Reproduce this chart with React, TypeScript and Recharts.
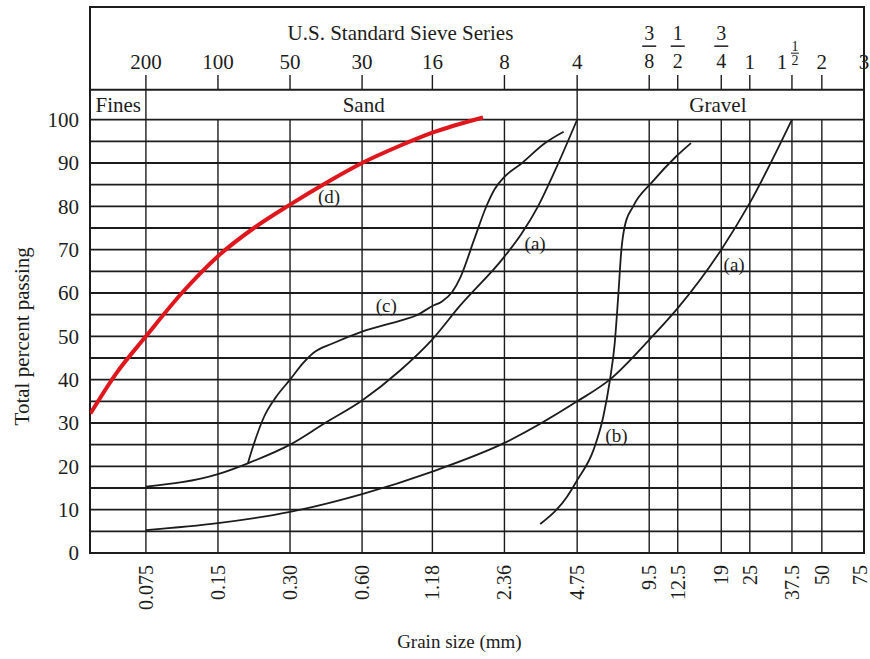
import { LineChart, Line, XAxis, YAxis, ReferenceLine, ReferenceArea, ReferenceDot } from 'recharts'

// grain sizes (mm) of the standard sieves, with their sieve designations
const sieveSizes = [0.075, 0.15, 0.3, 0.6, 1.18, 2.36, 4.75, 9.5, 12.5, 19, 25, 37.5, 50, 75]
const sizeLabels = ['0.075', '0.15', '0.30', '0.60', '1.18', '2.36', '4.75', '9.5', '12.5', '19', '25', '37.5', '50', '75']
const sieveNames = ['200', '100', '50', '30', '16', '8', '4', '3/8', '1/2', '3/4', '1', '1 1/2', '2', '3']
const percentTicks = [0, 10, 20, 30, 40, 50, 60, 70, 80, 90, 100]
const gridLevels = [0, 5, 10, 15, 20, 25, 30, 35, 40, 45, 50, 55, 60, 65, 70, 75, 80, 85, 90, 95, 100]
const zoneBounds = [0.075, 4.75]

// (a) well graded gravel
const gravelASize = [0.075, 0.15, 0.3, 0.6, 1.18, 2.36, 4.75, 6.5, 9.5, 12.5, 19, 25, 37.5]
const gravelAPct = [5.3, 6.9, 9.5, 13.6, 18.8, 25.4, 35, 40, 49.2, 56.5, 70, 80.8, 100]
// (a) well graded sand
const sandASize = [0.075, 0.15, 0.2, 0.3, 0.42, 0.6, 0.86, 1.18, 1.53, 2.36, 2.79, 3.26, 3.85, 4.75]
const sandAPct = [15.3, 18.2, 20.7, 25, 30, 35.2, 42, 49.3, 56.9, 68.4, 73.8, 80, 88.4, 100]
// (b) uniform gravel
const uniformSize = [3.33, 4.31, 4.75, 5.56, 6.11, 6.51, 6.82, 7.05, 7.27, 7.5, 8.12, 9.81, 12.3, 14.2]
const uniformPct = [6.7, 13, 16.8, 23.8, 31.5, 39.9, 48.5, 59.2, 70, 75.3, 79.9, 85.7, 91.5, 94.6]
// (c) gap graded
const gapSize = [0.2, 0.21, 0.234, 0.263, 0.3, 0.34, 0.374, 0.454, 0.6, 0.89, 1.01, 1.18, 1.29, 1.43, 1.55, 1.76, 1.98, 2.15, 2.36, 2.78, 3.49, 4.17]
const gapPct = [20.7, 24.5, 31.5, 36.1, 40, 43.8, 46.1, 48.4, 51.1, 53.8, 54.8, 57, 58, 60.3, 63.8, 72.2, 79.9, 84, 86.8, 89.9, 94.6, 97.2]
// (d) fine soil
const fineSize = [0.044, 0.0563, 0.075, 0.106, 0.15, 0.212, 0.3, 0.424, 0.6, 0.849, 1.18, 1.92]
const finePct = [32.2, 41.4, 50, 60, 68.5, 75, 80.4, 85.4, 90, 93.8, 97, 100.5]

const FONT = '"Liberation Serif", "Times New Roman", serif'
const INK = '#1c1c1c'
const RED = '#e0161d'

// where the text annotations sit, in (size mm, percent)
const curveNotes = [
  { d: 0.437, p: 82.2, t: '(d)' },
  { d: 0.757, p: 57.2, t: '(c)' },
  { d: 3.17, p: 71.5, t: '(a)' },
  { d: 21.5, p: 66.5, t: '(a)' },
  { d: 6.93, p: 27.2, t: '(b)' },
]
const zoneNotes = [
  { d: 0.0575, t: 'Fines' },
  { d: 0.609, t: 'Sand' },
  { d: 18.4, t: 'Gravel' },
]

const X_MIN = 0.0438
const Y_TOP = 126
const HEADER = 106.9
const TICK_TOP = 110.3

const pts = (sizes: number[], pcts: number[]) => sizes.map((d, i) => ({ d, p: pcts[i] }))

function BottomTick({ x, y, payload }: any) {
  const i = sieveSizes.indexOf(payload.value)
  const label = sizeLabels[i] ?? String(payload.value)
  // last label sits on the right border, pull it in a little so it stays on the page
  const tx = i === sieveSizes.length - 1 ? x - 4 : x
  return (
    <text x={tx} y={y} transform={`rotate(-90 ${tx} ${y})`} textAnchor="end" dy="0.35em"
      fontSize={20} fontFamily={FONT} fill={INK}>{label}</text>
  )
}

function LeftTick({ x, y, payload }: any) {
  return (
    <text x={x} y={y} textAnchor="end" dy="0.35em" fontSize={21} fontFamily={FONT} fill={INK}>
      {payload.value}
    </text>
  )
}

function SieveName({ cx, cy, name }: { cx: number; cy: number; name: string }) {
  const txt = { fontFamily: FONT, fill: INK, textAnchor: 'middle' as const }
  if (name.includes(' ')) {
    const [whole, frac] = name.split(' ')
    const [n, den] = frac.split('/')
    return (
      <g>
        <text x={cx - 10} y={cy} dy="0.35em" fontSize={21} {...txt}>{whole}</text>
        <text x={cx + 3} y={cy - 15} dy="0.35em" fontSize={14} {...txt}>{n}</text>
        <line x1={cx - 1} x2={cx + 7} y1={cy - 8} y2={cy - 8} stroke={INK} strokeWidth={1} />
        <text x={cx + 3} y={cy - 1} dy="0.35em" fontSize={14} {...txt}>{den}</text>
      </g>
    )
  }
  if (name.includes('/')) {
    const [n, den] = name.split('/')
    return (
      <g>
        <text x={cx} y={cy - 28} dy="0.35em" fontSize={20} {...txt}>{n}</text>
        <line x1={cx - 7} x2={cx + 7} y1={cy - 15} y2={cy - 15} stroke={INK} strokeWidth={1.5} />
        <text x={cx} y={cy} dy="0.35em" fontSize={20} {...txt}>{den}</text>
      </g>
    )
  }
  return <text x={cx} y={cy} dy="0.35em" fontSize={21} {...txt}>{name}</text>
}

const note = (t: string, size = 21, rotate = false) => (p: any) => (
  <text x={p.cx} y={p.cy} dy="0.35em" textAnchor="middle" fontSize={size} fontFamily={FONT} fill={INK}
    transform={rotate ? `rotate(-90 ${p.cx} ${p.cy})` : undefined}>{t}</text>
)

export default function App() {
  return (
    <div style={{ position: 'absolute', left: 0, top: 0, width: 870, height: 659, background: '#fff' }}>
      <LineChart width={870} height={659} margin={{ top: 7, right: 6, bottom: 0, left: 0 }}>
        <XAxis dataKey="d" type="number" scale="log" domain={[X_MIN, 75]} allowDataOverflow
          ticks={sieveSizes} interval={0} height={106} axisLine={false} tickLine={false}
          tickSize={0} tickMargin={12} tick={<BottomTick />} />
        <YAxis type="number" domain={[0, Y_TOP]} allowDataOverflow ticks={percentTicks} interval={0}
          width={90} axisLine={false} tickLine={false} tickSize={0} tickMargin={11} tick={<LeftTick />} />

        {gridLevels.map(v => (
          <ReferenceLine key={`h${v}`} y={v} stroke={INK} strokeWidth={1.8} />
        ))}
        {sieveSizes.map(d => (
          <ReferenceLine key={`v${d}`} stroke={INK} strokeWidth={1.4}
            segment={[{ x: d, y: 0 }, { x: d, y: zoneBounds.includes(d) ? HEADER : 100 }]} />
        ))}
        {sieveSizes.map(d => (
          <ReferenceLine key={`t${d}`} stroke={INK} strokeWidth={1.4}
            segment={[{ x: d, y: HEADER }, { x: d, y: TICK_TOP }]} />
        ))}
        <ReferenceLine y={HEADER} stroke={INK} strokeWidth={1.8} />
        <ReferenceArea x1={X_MIN} x2={75} y1={0} y2={Y_TOP} fill="none" fillOpacity={0}
          stroke={INK} strokeWidth={2} />

        {sieveSizes.map((d, i) => (
          <ReferenceDot key={`s${d}`} x={d} y={113.5} r={0}
            shape={(p: any) => <SieveName cx={p.cx} cy={p.cy} name={sieveNames[i]} />} />
        ))}
        <ReferenceDot x={0.868} y={120.1} r={0} shape={note('U.S. Standard Sieve Series')} />
        {zoneNotes.map(z => (
          <ReferenceDot key={z.t} x={z.d} y={103.4} r={0} shape={note(z.t)} />
        ))}
        {curveNotes.map((c, i) => (
          <ReferenceDot key={`c${i}`} x={c.d} y={c.p} r={0} shape={note(c.t, 19)} />
        ))}
        <ReferenceDot x={0.0227} y={50} r={0} ifOverflow="visible" shape={note('Total percent passing', 21, true)} />
        <ReferenceDot x={1.53} y={-20.3} r={0} ifOverflow="visible" shape={note('Grain size (mm)', 19)} />

        <Line data={pts(gravelASize, gravelAPct)} dataKey="p" type="monotone" stroke={INK} strokeWidth={1.8}
          dot={false} isAnimationActive={false} />
        <Line data={pts(sandASize, sandAPct)} dataKey="p" type="monotone" stroke={INK} strokeWidth={1.8}
          dot={false} isAnimationActive={false} />
        <Line data={pts(uniformSize, uniformPct)} dataKey="p" type="monotone" stroke={INK} strokeWidth={1.8}
          dot={false} isAnimationActive={false} />
        <Line data={pts(gapSize, gapPct)} dataKey="p" type="monotone" stroke={INK} strokeWidth={1.8}
          dot={false} isAnimationActive={false} />
        <Line data={pts(fineSize, finePct)} dataKey="p" type="monotone" stroke={RED} strokeWidth={4}
          dot={false} isAnimationActive={false} />
      </LineChart>
    </div>
  )
}
